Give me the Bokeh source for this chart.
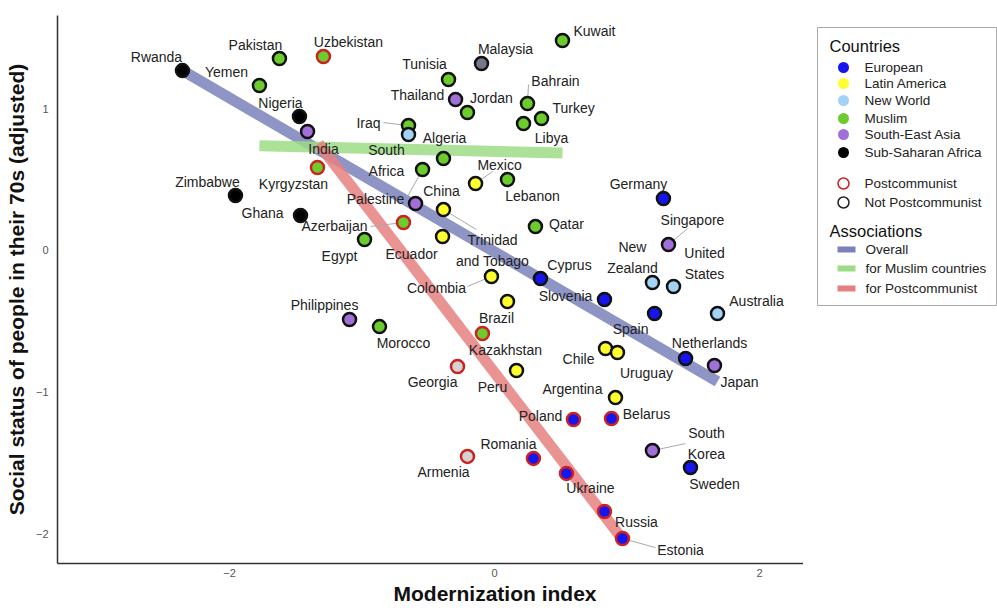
from bokeh.plotting import figure
from bokeh.models import ColumnDataSource, Range1d, FixedTicker, Title
from bokeh.layouts import row
from bokeh.core.properties import value
from bokeh.embed import file_html
from bokeh.resources import INLINE

# ---------------- data ----------------
countries = ["Rwanda", "Pakistan", "Uzbekistan", "Yemen", "Nigeria", "India", "Kyrgyzstan",
             "Zimbabwe", "Ghana", "Azerbaijan", "Egypt", "Ecuador", "Iraq", "Algeria",
             "Tunisia", "Malaysia", "Kuwait", "Thailand", "Jordan", "Bahrain", "Turkey",
             "Libya", "South Africa", "Palestine", "China", "Mexico", "Lebanon",
             "Trinidad and Tobago", "Qatar", "Cyprus", "Colombia", "Slovenia", "Brazil",
             "Philippines", "Morocco", "Kazakhstan", "Georgia", "Peru", "Chile", "Uruguay",
             "Spain", "Netherlands", "Japan", "Australia", "Argentina", "Belarus", "Poland",
             "Romania", "Armenia", "Ukraine", "Russia", "Estonia", "Germany", "Singapore",
             "New Zealand", "United States", "South Korea", "Sweden"]
modernization = [-2.355, -1.623, -1.291, -1.774, -1.472, -1.411, -1.336,
                 -1.955, -1.464, -0.687, -0.981, -0.392, -0.649, -0.649,
                 -0.347, -0.098, 0.513, -0.294, -0.204, 0.249, 0.355,
                 0.219, -0.385, -0.543, -0.596, -0.143, 0.098,
                 -0.385, 0.309, 0.347, -0.023, 0.830, 0.098,
                 -1.094, -0.868, -0.091, -0.279, 0.166, 0.838, 0.928,
                 1.208, 1.442, 1.660, 1.683, 0.913, 0.883, 0.596,
                 0.294, -0.204, 0.543, 0.830, 0.966, 1.275, 1.313,
                 1.192, 1.351, 1.192, 1.479]
social_status = [1.268, 1.353, 1.367, 1.163, 0.944, 0.838, 0.584,
                 0.386, 0.245, 0.196, 0.076, 0.097, 0.880, 0.817,
                 1.205, 1.318, 1.480, 1.064, 0.972, 1.036, 0.930,
                 0.894, 0.647, 0.570, 0.330, 0.471, 0.499,
                 0.287, 0.167, -0.200, -0.185, -0.348, -0.362,
                 -0.489, -0.539, -0.588, -0.821, -0.849, -0.693, -0.722,
                 -0.446, -0.764, -0.814, -0.446, -1.040, -1.188, -1.194,
                 -1.469, -1.455, -1.575, -1.844, -2.035, 0.365, 0.040,
                 -0.228, -0.256, -1.414, -1.534]
region = ["Sub-Saharan Africa", "Muslim", "Muslim", "Muslim", "Sub-Saharan Africa", "South-East Asia", "Muslim",
          "Sub-Saharan Africa", "Sub-Saharan Africa", "Muslim", "Muslim", "Latin America", "Muslim", "New World",
          "Muslim", "Other", "Muslim", "South-East Asia", "Muslim", "Muslim", "Muslim",
          "Muslim", "Muslim", "Muslim", "South-East Asia", "Latin America", "Muslim",
          "Latin America", "Muslim", "European", "Latin America", "European", "Latin America",
          "South-East Asia", "Muslim", "Muslim", "None", "Latin America", "Latin America", "Latin America",
          "European", "European", "South-East Asia", "New World", "Latin America", "European", "European",
          "European", "None", "European", "European", "European", "European", "South-East Asia",
          "New World", "New World", "South-East Asia", "European"]
postcommunist = ["Uzbekistan", "Kyrgyzstan", "Azerbaijan", "Kazakhstan", "Georgia", "Armenia",
                 "Belarus", "Poland", "Romania", "Ukraine", "Russia", "Estonia"]

region_names = ["European", "Latin America", "New World", "Muslim", "South-East Asia", "Sub-Saharan Africa"]
association_names = ["Overall", "for Muslim countries", "for Postcommunist"]
x_ticks = [-2, 0, 2]
y_ticks = [-2, -1, 0, 1]

# association lines (ends of the fitted lines)
overall_x = [-2.355, 1.683]
overall_y = [1.268, -0.926]
muslim_x = [-1.774, 0.513]
muslim_y = [0.738, 0.686]
postcom_x = [-1.328, 0.974]
postcom_y = [0.753, -2.049]

# ---------------- styles ----------------
region_fill = {"European": "#1515ee", "Latin America": "#ffff2e", "New World": "#a3d2f5",
               "Muslim": "#6ccc2e", "South-East Asia": "#a070d8", "Sub-Saharan Africa": "#000000",
               "Other": "#77778c", "None": "#d3d3d3"}
assoc_color = {"Overall": "#7a82bb", "for Muslim countries": "#9ddc86", "for Postcommunist": "#e68080"}
FONT = "Liberation Sans"

display = {"South Africa": "South\nAfrica", "Trinidad and Tobago": "Trinidad\nand Tobago",
           "New Zealand": "New\nZealand", "United States": "United\nStates", "South Korea": "South\nKorea"}
label_offset = {
    "Rwanda": (-26, -14), "Pakistan": (-24, -14), "Uzbekistan": (25, -15), "Yemen": (-33, -13),
    "Nigeria": (-19, -14), "India": (16, 17), "Kyrgyzstan": (-24, 16), "Zimbabwe": (-28, -14),
    "Ghana": (-38, -3), "Azerbaijan": (-69, 4), "Egypt": (-25, 17), "Ecuador": (-31, 17),
    "Iraq": (-40, -3), "Algeria": (36, 3), "Tunisia": (-24, -16), "Malaysia": (24, -15),
    "Kuwait": (32, -10), "Thailand": (-38, -5), "Jordan": (24, -15), "Bahrain": (28, -22),
    "Turkey": (32, -10), "Libya": (28, 14), "South Africa": (-57, 2), "Palestine": (-47, 29),
    "China": (26, -13), "Mexico": (24, -19), "Lebanon": (25, 16), "Trinidad and Tobago": (49, 41),
    "Qatar": (31, -3), "Cyprus": (29, -14), "Colombia": (-55, 12), "Slovenia": (-39, -4),
    "Brazil": (-11, 16), "Philippines": (-25, -15), "Morocco": (24, 16), "Kazakhstan": (23, 16),
    "Georgia": (-25, 15), "Peru": (-24, 16), "Chile": (-27, 11), "Uruguay": (29, 20),
    "Spain": (-24, 16), "Netherlands": (24, -15), "Japan": (25, 16), "Australia": (39, -12),
    "Argentina": (-43, -9), "Belarus": (35, -5), "Poland": (-33, -3), "Romania": (-25, -14),
    "Armenia": (-24, 16), "Ukraine": (24, 15), "Russia": (32, 10), "Estonia": (58, 11),
    "Germany": (-25, -15), "Singapore": (24, -25), "New Zealand": (-20, -25),
    "United States": (31, -23), "South Korea": (54, -7), "Sweden": (24, 16)}
leader_end = {"Iraq": (-25, -3), "Palestine": (-15, 27), "Trinidad and Tobago": (33, 20),
              "Mexico": (17, -12), "Azerbaijan": (-33, 4), "Colombia": (-24, 10),
              "Bahrain": (1, -19), "Singapore": (19, -16), "South Korea": (33, -7),
              "Estonia": (33, 9)}

X0, X1 = -3.298, 2.332
Y0, Y1 = -2.211, 1.657
BL, BT, BB = 57, 15, 43          # borders around the plotting frame
FW, FH = 746, 548                # frame size
W, H = BL + FW, BT + FH + BB
sx = FW / (X1 - X0)
sy = FH / (Y1 - Y0)

p = figure(width=W, height=H, min_border_left=BL, min_border_top=BT,
           min_border_bottom=BB, min_border_right=0,
           x_range=Range1d(X0, X1), y_range=Range1d(Y0, Y1),
           output_backend="svg", toolbar_location=None)
p.grid.visible = False
p.outline_line_color = None
p.background_fill_color = "white"

p.xaxis.ticker = FixedTicker(ticks=x_ticks)
p.yaxis.ticker = FixedTicker(ticks=y_ticks)
for ax in (p.xaxis[0], p.yaxis[0]):
    ax.axis_line_color = "#333333"
    ax.axis_line_width = 1.5
    ax.major_tick_line_color = None
    ax.minor_tick_line_color = None
    ax.major_tick_out = 0
    ax.major_tick_in = 0
    ax.minor_tick_out = 0
    ax.minor_tick_in = 0
    ax.major_label_text_font = FONT
    ax.major_label_text_font_size = "11px"
    ax.major_label_text_color = "#555555"
    ax.axis_label_text_font = FONT
    ax.axis_label_text_font_size = "21px"
    ax.axis_label_text_font_style = "bold"
    ax.axis_label_text_color = "#111111"
p.yaxis.axis_label = "Social status of people in their 70s (adjusted)"
p.xaxis.major_label_standoff = 5
p.yaxis.major_label_standoff = 9
p.yaxis.axis_label_standoff = 5

xt = Title(text="Modernization index", align="left", offset=336, standoff=0,
           text_font=FONT, text_font_size="21px", text_font_style="bold", text_color="#111111")
p.add_layout(xt, "below")

# association lines
for xs, ys, name in [(overall_x, overall_y, "Overall"), (muslim_x, muslim_y, "for Muslim countries"),
                     (postcom_x, postcom_y, "for Postcommunist")]:
    p.line(xs, ys, line_color=assoc_color[name], line_width=11, line_alpha=0.85, line_cap="butt")

# leader lines
lx0, ly0, lx1, ly1 = [], [], [], []
for c, x, y in zip(countries, modernization, social_status):
    if c in leader_end:
        dx, dy = leader_end[c]
        lx0.append(x); ly0.append(y)
        lx1.append(x + dx / sx); ly1.append(y - dy / sy)
p.segment(lx0, ly0, lx1, ly1, line_color="#aaaaaa", line_width=1)

src = ColumnDataSource(dict(
    x=modernization, y=social_status, name=countries,
    label=[display.get(c, c) for c in countries],
    fill=[region_fill[r] for r in region],
    edge=["#cc2222" if c in postcommunist else "#111111" for c in countries],
    dx=[label_offset[c][0] for c in countries],
    dy=[label_offset[c][1] for c in countries],
))
p.scatter("x", "y", source=src, size=13, fill_color="fill", line_color="edge", line_width=2.5)
p.text("x", "y", text="label", x_offset="dx", y_offset="dy", source=src,
       text_align="center", text_baseline="middle", text_font=value(FONT),
       text_font_size="14px", text_color="#222222", text_line_height=1.28)

# ---------------- legend panel (coordinates = page pixels) ----------------
LW = 997 - W
lg = figure(width=LW, height=H, min_border_left=0, min_border_right=0,
            min_border_top=BT, min_border_bottom=BB,
            x_range=Range1d(W, W + LW), y_range=Range1d(BT + FH, BT),
            output_backend="svg", toolbar_location=None)
lg.axis.visible = False
lg.grid.visible = False
lg.outline_line_color = None
lg.quad(left=[817], right=[996], top=[27], bottom=[305], fill_color="white",
        line_color="#aaaaaa", line_width=1)
lg.text([829], [45], text=["Countries"], text_font=value(FONT), text_font_size="16.5px",
        text_baseline="middle", text_color="#111111")
reg_y = [67, 83, 100, 118, 134, 152]
lg.scatter([843] * len(region_names), reg_y, size=11, line_color=None,
           fill_color=[region_fill[r] for r in region_names])
lg.text([864] * len(region_names), reg_y, text=region_names, text_font=value(FONT),
        text_font_size="13.5px", text_baseline="middle", text_color="#222222")
pc_y = [183, 202]
lg.scatter([843, 843], pc_y, size=11, fill_color=None, line_color=["#cc2222", "#222222"], line_width=1.5)
lg.text([864, 864], pc_y, text=["Postcommunist", "Not Postcommunist"], text_font=value(FONT),
        text_font_size="13.5px", text_baseline="middle", text_color="#222222")
lg.text([829], [230], text=["Associations"], text_font=value(FONT), text_font_size="16.5px",
        text_baseline="middle", text_color="#111111")
as_y = [249, 268, 288]
lg.quad(left=[837] * 3, right=[855] * 3, top=[y - 3 for y in as_y], bottom=[y + 3 for y in as_y],
        fill_color=[assoc_color[a] for a in association_names], line_color=None)
lg.text([865] * 3, as_y, text=association_names, text_font=value(FONT),
        text_font_size="13.5px", text_baseline="middle", text_color="#222222")

layout = row(p, lg)
open("out.html", "w").write(file_html(layout, INLINE))
